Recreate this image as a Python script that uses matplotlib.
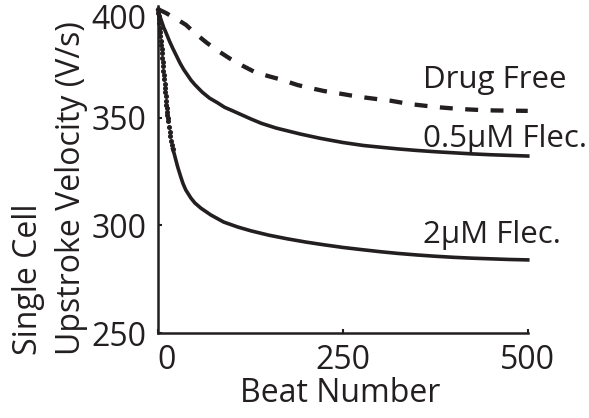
import matplotlib
matplotlib.use("Agg")
import matplotlib.pyplot as plt
import matplotlib.transforms as mtransforms

# Drug free (dashed)
free_beat = [0, 5, 11, 20, 30, 38, 50, 66, 80, 97, 115, 132, 150, 166, 189, 205, 225, 245,
             262, 280, 298, 315, 330, 345, 363, 382, 400, 418, 436, 454, 477, 500]
free_vel = [400.5, 399.8, 398.8, 397, 395, 393.3, 389.5, 385, 381.5, 377.7, 374.2, 371.2,
            369.4, 367.9, 365.3, 364, 362.5, 361.4, 360.4, 359.5, 358.7, 358, 357.1, 356.3,
            355.6, 354.9, 354.4, 354, 353.7, 353.5, 353.4, 353.3]

# 0.5 uM flecainide
half_beat = [0, 2, 4, 6, 8, 10, 13, 16, 20, 25, 30, 35, 40, 45, 50, 60, 70, 81, 90, 100,
             113, 126, 140, 160, 193, 220, 250, 278, 301, 325, 350, 375, 400, 425, 450,
             475, 500]
half_vel = [400, 398, 396, 394, 392, 390.5, 388, 385.5, 382.5, 379, 375.5, 372.5, 370,
            367.5, 365.5, 362, 359.2, 357, 355, 353.5, 351.5, 349.5, 347.5, 345.3, 342.5,
            340.5, 338.6, 337.2, 336.4, 335.6, 334.9, 334.3, 333.8, 333.3, 332.9, 332.6,
            332.3]

# 2 uM flecainide: early beats drawn as dots, later part as a line
two_dot_beat = [0, 0.5, 1, 1.5, 2, 2.5, 3, 3.5, 4, 4.5, 5, 5.5, 6, 6.5, 7, 7.5, 8, 8.5, 9,
                9.5, 10, 10.5, 11, 11.5, 12, 12.5, 13, 13.5, 14, 15, 16, 17, 18, 19, 20]
two_dot_vel = [400.5, 399, 397.5, 396, 394, 392, 390, 388, 386, 384, 382, 380, 378, 376,
               374, 372, 370, 368, 366, 364, 362, 360, 358, 356, 354.5, 353, 351.5, 350,
               348.5, 346, 343.5, 341.5, 339.5, 337.5, 335.5]
two_beat = [20, 22, 24.3, 27, 31, 34, 37.8, 44.6, 50, 58, 71.6, 89, 108, 126, 150, 175,
            200, 225, 250, 275, 301, 325, 350, 375, 400, 425, 450, 475, 500]
two_vel = [335.5, 333.5, 330.5, 327, 322.6, 319.5, 316.5, 312.8, 310.5, 308.1, 304.9,
           301.6, 299.3, 297.5, 295.5, 293.8, 292.3, 291, 289.8, 288.8, 287.8, 287, 286.3,
           285.7, 285.2, 284.8, 284.5, 284.2, 284]

ink = "#231f20"
plt.rcParams["font.family"] = ["Open Sans", "DejaVu Sans"]
plt.rcParams["font.size"] = 23

fig = plt.figure(figsize=(5.89, 4.18), dpi=100)
ax = fig.add_axes([0.268, 0.2033, 0.628, 0.782])

ax.plot(free_beat, free_vel, color=ink, lw=3.1, linestyle=(0, (3.0, 2.9)),
        solid_capstyle="butt", clip_on=False)
ax.plot(half_beat, half_vel, color=ink, lw=2.6, clip_on=False, solid_joinstyle="round")
ax.plot(two_dot_beat, two_dot_vel, color=ink, linestyle="none", marker="o",
        markersize=2.6, clip_on=False)
ax.plot(two_beat, two_vel, color=ink, lw=2.6, clip_on=False, solid_joinstyle="round")

ax.text(359, 364, "Drug Free", color=ink, va="baseline", ha="left", fontsize=22.5)
ax.text(359, 336.5, "0.5\u03bcM Flec.", color=ink, va="baseline", ha="left", fontsize=22.5)
ax.text(359, 291.9, "2\u03bcM Flec.", color=ink, va="baseline", ha="left", fontsize=22.5)

ax.set_xlim(0, 500)
ax.set_ylim(250, 402)
ax.set_xticks([0, 250, 500])
ax.set_yticks([250, 300, 350, 400])
for side in ["top", "right"]:
    ax.spines[side].set_visible(False)
for side in ["left", "bottom"]:
    ax.spines[side].set_linewidth(1.8)
    ax.spines[side].set_color(ink)
ax.tick_params(direction="in", length=3, width=1.5, colors=ink, labelcolor=ink, pad=8)

# label nudges seen in the original: "0" right of the corner, "400" a bit lower
lbl0 = ax.get_xticklabels()[0]
lbl0.set_transform(lbl0.get_transform() + mtransforms.ScaledTranslation(0.09, 0, fig.dpi_scale_trans))
lbl400 = ax.get_yticklabels()[-1]
lbl400.set_transform(lbl400.get_transform() + mtransforms.ScaledTranslation(0, -0.06, fig.dpi_scale_trans))

fig.text(0.578, 0.058, "Beat Number", color=ink, ha="center", va="center")
fig.text(0.048, 0.151, "Single Cell", color=ink, rotation=90, ha="center", va="bottom")
fig.text(0.122, 0.151, "Upstroke Velocity (V/s)", color=ink, rotation=90, ha="center", va="bottom")

fig.savefig("out.png", dpi=100)
